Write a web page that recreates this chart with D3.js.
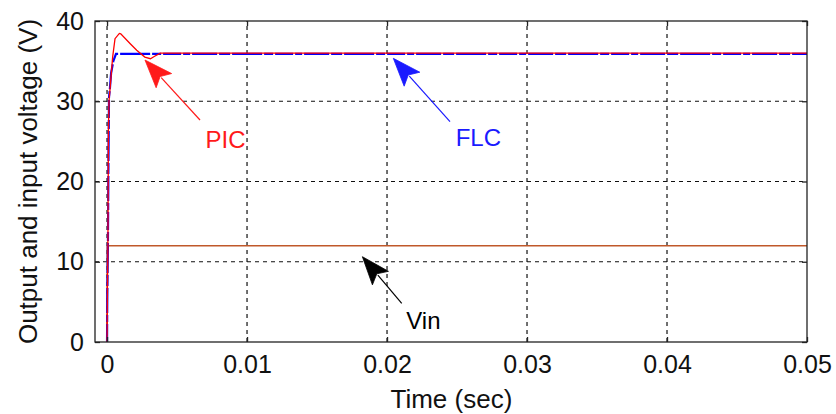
<!DOCTYPE html>
<html>
<head>
<meta charset="utf-8">
<script src="https://cdn.jsdelivr.net/npm/d3@7"></script>
<style>
  html, body { margin: 0; padding: 0; background: #fff; }
  svg { display: block; }
  text { font-family: "Liberation Sans", Arial, sans-serif; }
</style>
</head>
<body>
<svg id="chart" width="836" height="414"></svg>
<script>
// Axis ticks
const timeTicks = [0, 0.01, 0.02, 0.03, 0.04, 0.05];
const voltTicks = [0, 10, 20, 30, 40];

// Output voltage with the fuzzy logic controller (FLC)
const flcTime = [0, 0.00002, 0.00006, 0.0001, 0.00014, 0.0002, 0.00029, 0.00045, 0.00064, 0.05];
const flcVolt = [0, 6, 11.5, 22, 30.5, 31.5, 33.5, 35, 35.9, 35.9];

// Output voltage with the PI controller (PIC)
const picTime = [0, 0.00003, 0.00006, 0.0001, 0.00014, 0.0004, 0.00057, 0.00088, 0.00098, 0.00164, 0.00212, 0.0027, 0.0031, 0.0034, 0.0038, 0.05];
const picVolt = [0, 6.7, 11.5, 26.4, 30, 35.5, 37.8, 38.45, 38.4, 37.2, 36.36, 35.5, 35.3, 35.6, 36.0, 36.0];

// Input voltage
const vinTime = [0, 0.00001, 0.05];
const vinVolt = [0, 12, 12];

// Annotations: label, arrow tip, arrow tail and label anchor, in data units
const noteLabels = ["PIC", "FLC", "Vin"];
const noteTip = [[0.00271, 35.14], [0.02045, 35.35], [0.01824, 10.63]];
const noteTail = [[0.00664, 27.66], [0.0245, 27.45], [0.02105, 4.82]];
const noteText = [[0.00846, 24.17], [0.02652, 24.42], [0.0226, 1.58]];
const noteColors = ["#ff1a1a", "#1a1aff", "#000000"];

const svg = d3.select("#chart");
const margin = { left: 95, right: 29, top: 21, bottom: 72 };
const W = 836, H = 414;

const x = d3.scaleLinear().domain([-0.00086, 0.05]).range([margin.left, W - margin.right]);
const y = d3.scaleLinear().domain([0, 40]).range([H - margin.bottom, margin.top]);

const x0 = x.range()[0], x1 = x.range()[1];
const y0 = y.range()[0], y1 = y.range()[1];

// Dashed grid
const grid = svg.append("g").attr("stroke", "#111").attr("stroke-width", 1.2)
  .attr("stroke-dasharray", "4,4").attr("fill", "none");
grid.selectAll("line.vx").data(timeTicks.filter(t => t < 0.05)).join("line")
  .attr("x1", d => x(d)).attr("x2", d => x(d)).attr("y1", y0).attr("y2", y1);
grid.selectAll("line.hy").data(voltTicks.filter(v => v > 0 && v < 40)).join("line")
  .attr("x1", x0).attr("x2", x1).attr("y1", d => y(d)).attr("y2", d => y(d));

// Curves
const line = d3.line().x(d => x(d[0])).y(d => y(d[1]));
const zip = (a, b) => a.map((v, i) => [v, b[i]]);

svg.append("path").datum(zip(vinTime, vinVolt)).attr("d", line)
  .attr("fill", "none").attr("stroke", "#c0582a").attr("stroke-width", 1.5);
svg.append("path").datum(zip(flcTime, flcVolt)).attr("d", line)
  .attr("fill", "none").attr("stroke", "#0000ff").attr("stroke-width", 2.2)
  .attr("stroke-dasharray", "18,2,7,2,25,2,11,2,30,2,9,2");
svg.append("path").datum(zip(picTime, picVolt)).attr("d", line)
  .attr("fill", "none").attr("stroke", "#ff0000").attr("stroke-width", 1.3);

// Frame
svg.append("rect").attr("x", x0).attr("y", y1).attr("width", x1 - x0).attr("height", y0 - y1)
  .attr("fill", "none").attr("stroke", "#222").attr("stroke-width", 1.3);

// Inward ticks on all sides
const xTop = d3.axisTop(x).tickValues(timeTicks).tickSize(-5).tickFormat("");
const xBot = d3.axisBottom(x).tickValues(timeTicks).tickSize(-5).tickPadding(13)
  .tickFormat(d => d === 0 ? "0" : d3.format(".2f")(d));
const yLeft = d3.axisLeft(y).tickValues(voltTicks).tickSize(-5).tickPadding(11).tickFormat(d3.format("d"));
const yRight = d3.axisRight(y).tickValues(voltTicks).tickSize(-5).tickFormat("");

function styleAxis(g) {
  g.select(".domain").remove();
  g.selectAll(".tick line").attr("stroke", "#222").attr("stroke-width", 1.3);
  g.selectAll(".tick text").attr("fill", "#111").attr("font-size", 25)
    .attr("font-family", "'Liberation Sans', Arial, sans-serif");
}
svg.append("g").attr("transform", `translate(0,${y1})`).call(xTop).call(styleAxis);
svg.append("g").attr("transform", `translate(0,${y0})`).call(xBot).call(styleAxis);
svg.append("g").attr("transform", `translate(${x0},0)`).call(yLeft).call(styleAxis);
svg.append("g").attr("transform", `translate(${x1},0)`).call(yRight).call(styleAxis);

// Axis titles
svg.append("text").attr("x", x(0.0246)).attr("y", 408).attr("text-anchor", "middle")
  .attr("font-size", 26).attr("fill", "#111").text("Time (sec)");
svg.append("text").attr("transform", `translate(37,${(y0 + y1) / 2}) rotate(-90)`)
  .attr("text-anchor", "middle").attr("font-size", 26).attr("fill", "#111")
  .text("Output and input voltage (V)");

// Annotation arrows and labels
const notes = svg.append("g");
noteLabels.forEach((lab, i) => {
  const tx = x(noteTip[i][0]), ty = y(noteTip[i][1]);
  const sx = x(noteTail[i][0]), sy = y(noteTail[i][1]);
  const dx = sx - tx, dy = sy - ty, len = Math.hypot(dx, dy);
  const ux = dx / len, uy = dy / len, px = -uy, py = ux;
  const hl = 28, hw = 10.5;
  const bx = tx + ux * hl, by = ty + uy * hl;
  notes.append("line").attr("x1", bx - ux * 4).attr("y1", by - uy * 4).attr("x2", sx).attr("y2", sy)
    .attr("stroke", noteColors[i]).attr("stroke-width", 1.2);
  const head = [[tx, ty], [bx + px * hw, by + py * hw], [tx + ux * hl * 0.8, ty + uy * hl * 0.8], [bx - px * hw, by - py * hw]];
  notes.append("path").attr("d", "M" + head.map(p => p.join(",")).join("L") + "Z")
    .attr("fill", noteColors[i]).attr("stroke", noteColors[i]).attr("stroke-width", 0.8);
  notes.append("text").attr("x", x(noteText[i][0])).attr("y", y(noteText[i][1]))
    .attr("text-anchor", "middle").attr("font-size", 24).attr("fill", noteColors[i]).text(lab);
});
</script>
</body>
</html>
